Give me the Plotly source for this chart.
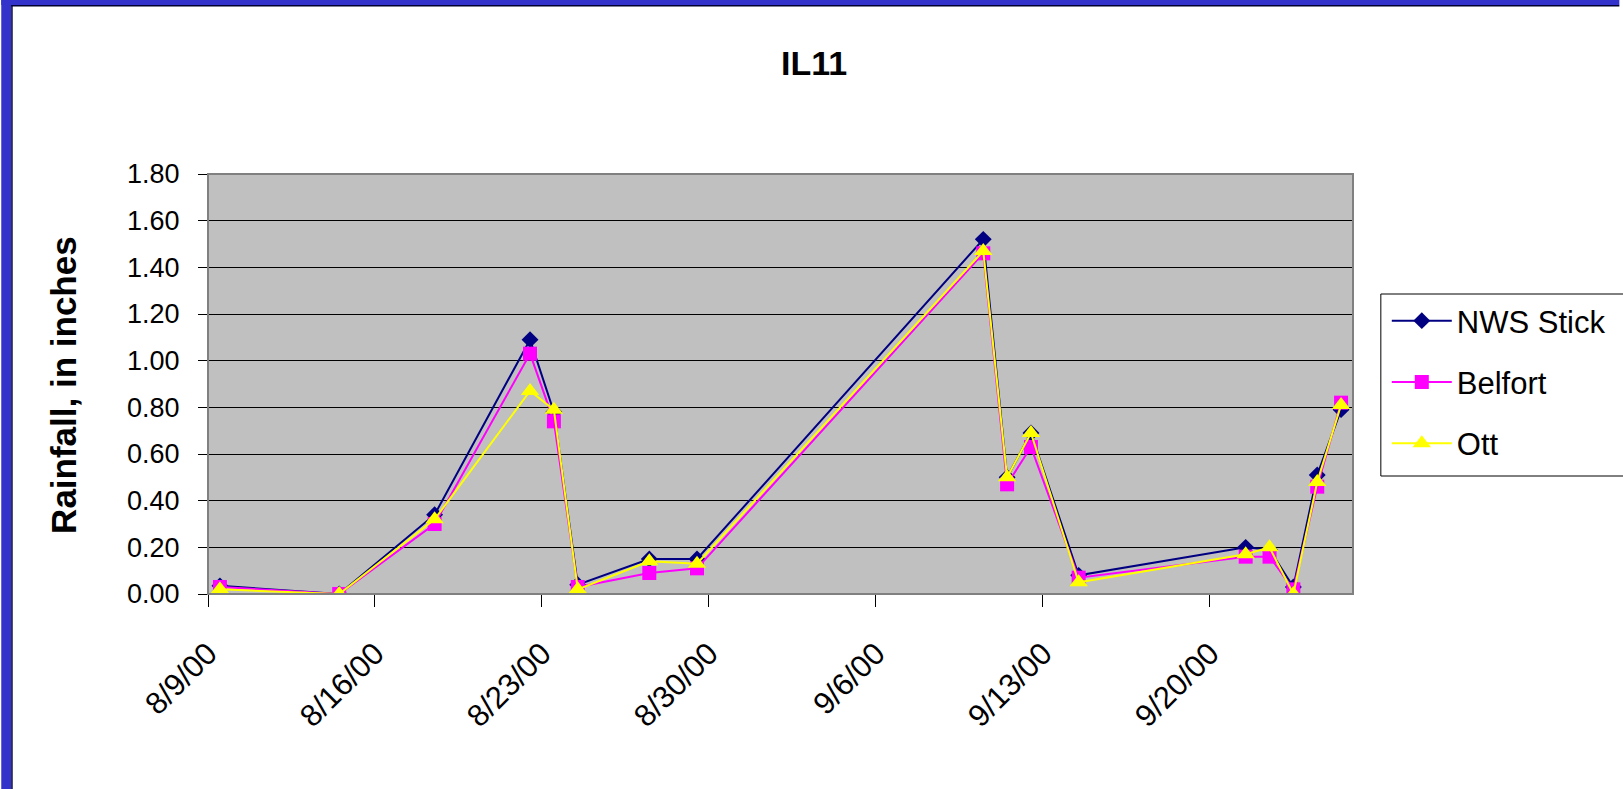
import plotly.graph_objects as go
import pandas as pd

# ---- data ----
dates = ["2000-08-09", "2000-08-14", "2000-08-18", "2000-08-22", "2000-08-23",
         "2000-08-24", "2000-08-27", "2000-08-29", "2000-09-10", "2000-09-11",
         "2000-09-12", "2000-09-14", "2000-09-21", "2000-09-22", "2000-09-23",
         "2000-09-24", "2000-09-25"]
nws_stick = [0.035, 0.00, 0.34, 1.09, 0.78, 0.04, 0.15, 0.15, 1.52, 0.50,
             0.69, 0.08, 0.20, 0.19, 0.03, 0.51, 0.79]
belfort = [0.03, 0.00, 0.30, 1.03, 0.74, 0.03, 0.09, 0.11, 1.46, 0.47,
           0.63, 0.07, 0.16, 0.16, 0.02, 0.46, 0.82]
ott = [0.02, 0.00, 0.32, 0.87, 0.79, 0.02, 0.14, 0.13, 1.47, 0.50,
       0.69, 0.05, 0.17, 0.20, 0.00, 0.48, 0.81]
series_names = ["NWS Stick", "Belfort", "Ott"]
title_text = "IL11"
y_title = "Rainfall, in inches"

# ---- layout geometry ----
W, H = 1623, 789
L, R, T, B = 208, 1360, 174, 594
PW, PH = R - L, B - T


def px(x):
    return (x - L) / PW


def py(y):
    return (B - y) / PH


# Excel "between dates" placement: each point sits in the middle of its day
xs = pd.to_datetime(dates) + pd.Timedelta(hours=12)

font_family = "Liberation Sans, Arial, sans-serif"

fig = go.Figure()
styles = [
    dict(color="#000080", symbol="diamond", size=13),
    dict(color="#FF00FF", symbol="square", size=14),
    dict(color="#FFFF00", symbol="triangle-up", size=16),
]
for i, (name, vals, st) in enumerate(zip(series_names, [nws_stick, belfort, ott], styles)):
    fig.add_trace(go.Scatter(
        x=xs, y=vals, name=name, mode="lines+markers",
        legendgroup=f"g{i}",
        line=dict(color=st["color"], width=2),
        marker=dict(color=st["color"], symbol=st["symbol"], size=st["size"],
                    line=dict(width=0)),
    ))

shapes = []
# plot-area border
shapes.append(dict(type="rect", xref="paper", yref="paper", x0=0, x1=1, y0=0, y1=1,
                   line=dict(color="#808080", width=2), layer="above"))
# legend box
shapes.append(dict(type="rect", xref="paper", yref="paper",
                   x0=px(1388), x1=px(1640), y0=py(476), y1=py(294),
                   line=dict(color="#000000", width=1), fillcolor="white", layer="below"))
# blue frame (left and top)
shapes.append(dict(type="rect", xref="paper", yref="paper",
                   x0=px(0), x1=px(10), y0=py(H + 5), y1=py(0),
                   line=dict(width=0), fillcolor="#3333CC"))
shapes.append(dict(type="rect", xref="paper", yref="paper",
                   x0=px(0), x1=px(W + 5), y0=py(5), y1=py(0),
                   line=dict(width=0), fillcolor="#3333CC"))
shapes.append(dict(type="rect", xref="paper", yref="paper",
                   x0=px(10), x1=px(11.5), y0=py(H + 5), y1=py(5),
                   line=dict(width=0), fillcolor="#000033"))
shapes.append(dict(type="rect", xref="paper", yref="paper",
                   x0=px(10), x1=px(W + 5), y0=py(6.5), y1=py(5),
                   line=dict(width=0), fillcolor="#000033"))

annotations = [
    dict(text=f"<b>{title_text}</b>", xref="paper", yref="paper",
         x=px(818), y=py(63), xanchor="center", yanchor="middle", showarrow=False,
         font=dict(family=font_family, size=34, color="black")),
    dict(text=f"<b>{y_title}</b>", xref="paper", yref="paper",
         x=px(62), y=py(385), xanchor="center", yanchor="middle", showarrow=False,
         textangle=-90, font=dict(family=font_family, size=35, color="black")),
]

fig.update_layout(
    width=W, height=H,
    margin=dict(l=L, r=W - R, t=T, b=H - B, pad=0),
    paper_bgcolor="white",
    plot_bgcolor="#C0C0C0",
    font=dict(family=font_family, size=30, color="black"),
    showlegend=True,
    legend=dict(x=px(1394), y=py(294), xanchor="left", yanchor="top",
                bgcolor="rgba(0,0,0,0)", borderwidth=0,
                font=dict(family=font_family, size=31, color="black"),
                itemwidth=60, tracegroupgap=18, traceorder="grouped"),
    shapes=shapes,
    annotations=annotations,
    xaxis=dict(
        type="date",
        range=["2000-08-09", "2000-09-26"],
        tick0="2000-08-09", dtick=7 * 24 * 3600 * 1000,
        tickformat="%-m/%-d/%y",
        tickangle=-45,
        ticks="outside", ticklen=12, tickcolor="black", tickwidth=1,
        ticklabelstandoff=16,
        showgrid=False, zeroline=False,
        showline=True, linecolor="#404040", linewidth=1,
        tickfont=dict(family=font_family, size=31, color="black"),
    ),
    yaxis=dict(
        range=[0, 1.8], tick0=0, dtick=0.2, tickformat=".2f",
        ticks="outside", ticklen=9, tickcolor="black", tickwidth=1,
        ticklabelstandoff=13,
        showgrid=True, gridcolor="black", gridwidth=1,
        zeroline=False,
        showline=True, linecolor="black", linewidth=1,
        tickfont=dict(family=font_family, size=27, color="black"),
    ),
)

fig.write_html("out.html", config={"displayModeBar": False},
               post_script="document.body.style.margin='0';")
